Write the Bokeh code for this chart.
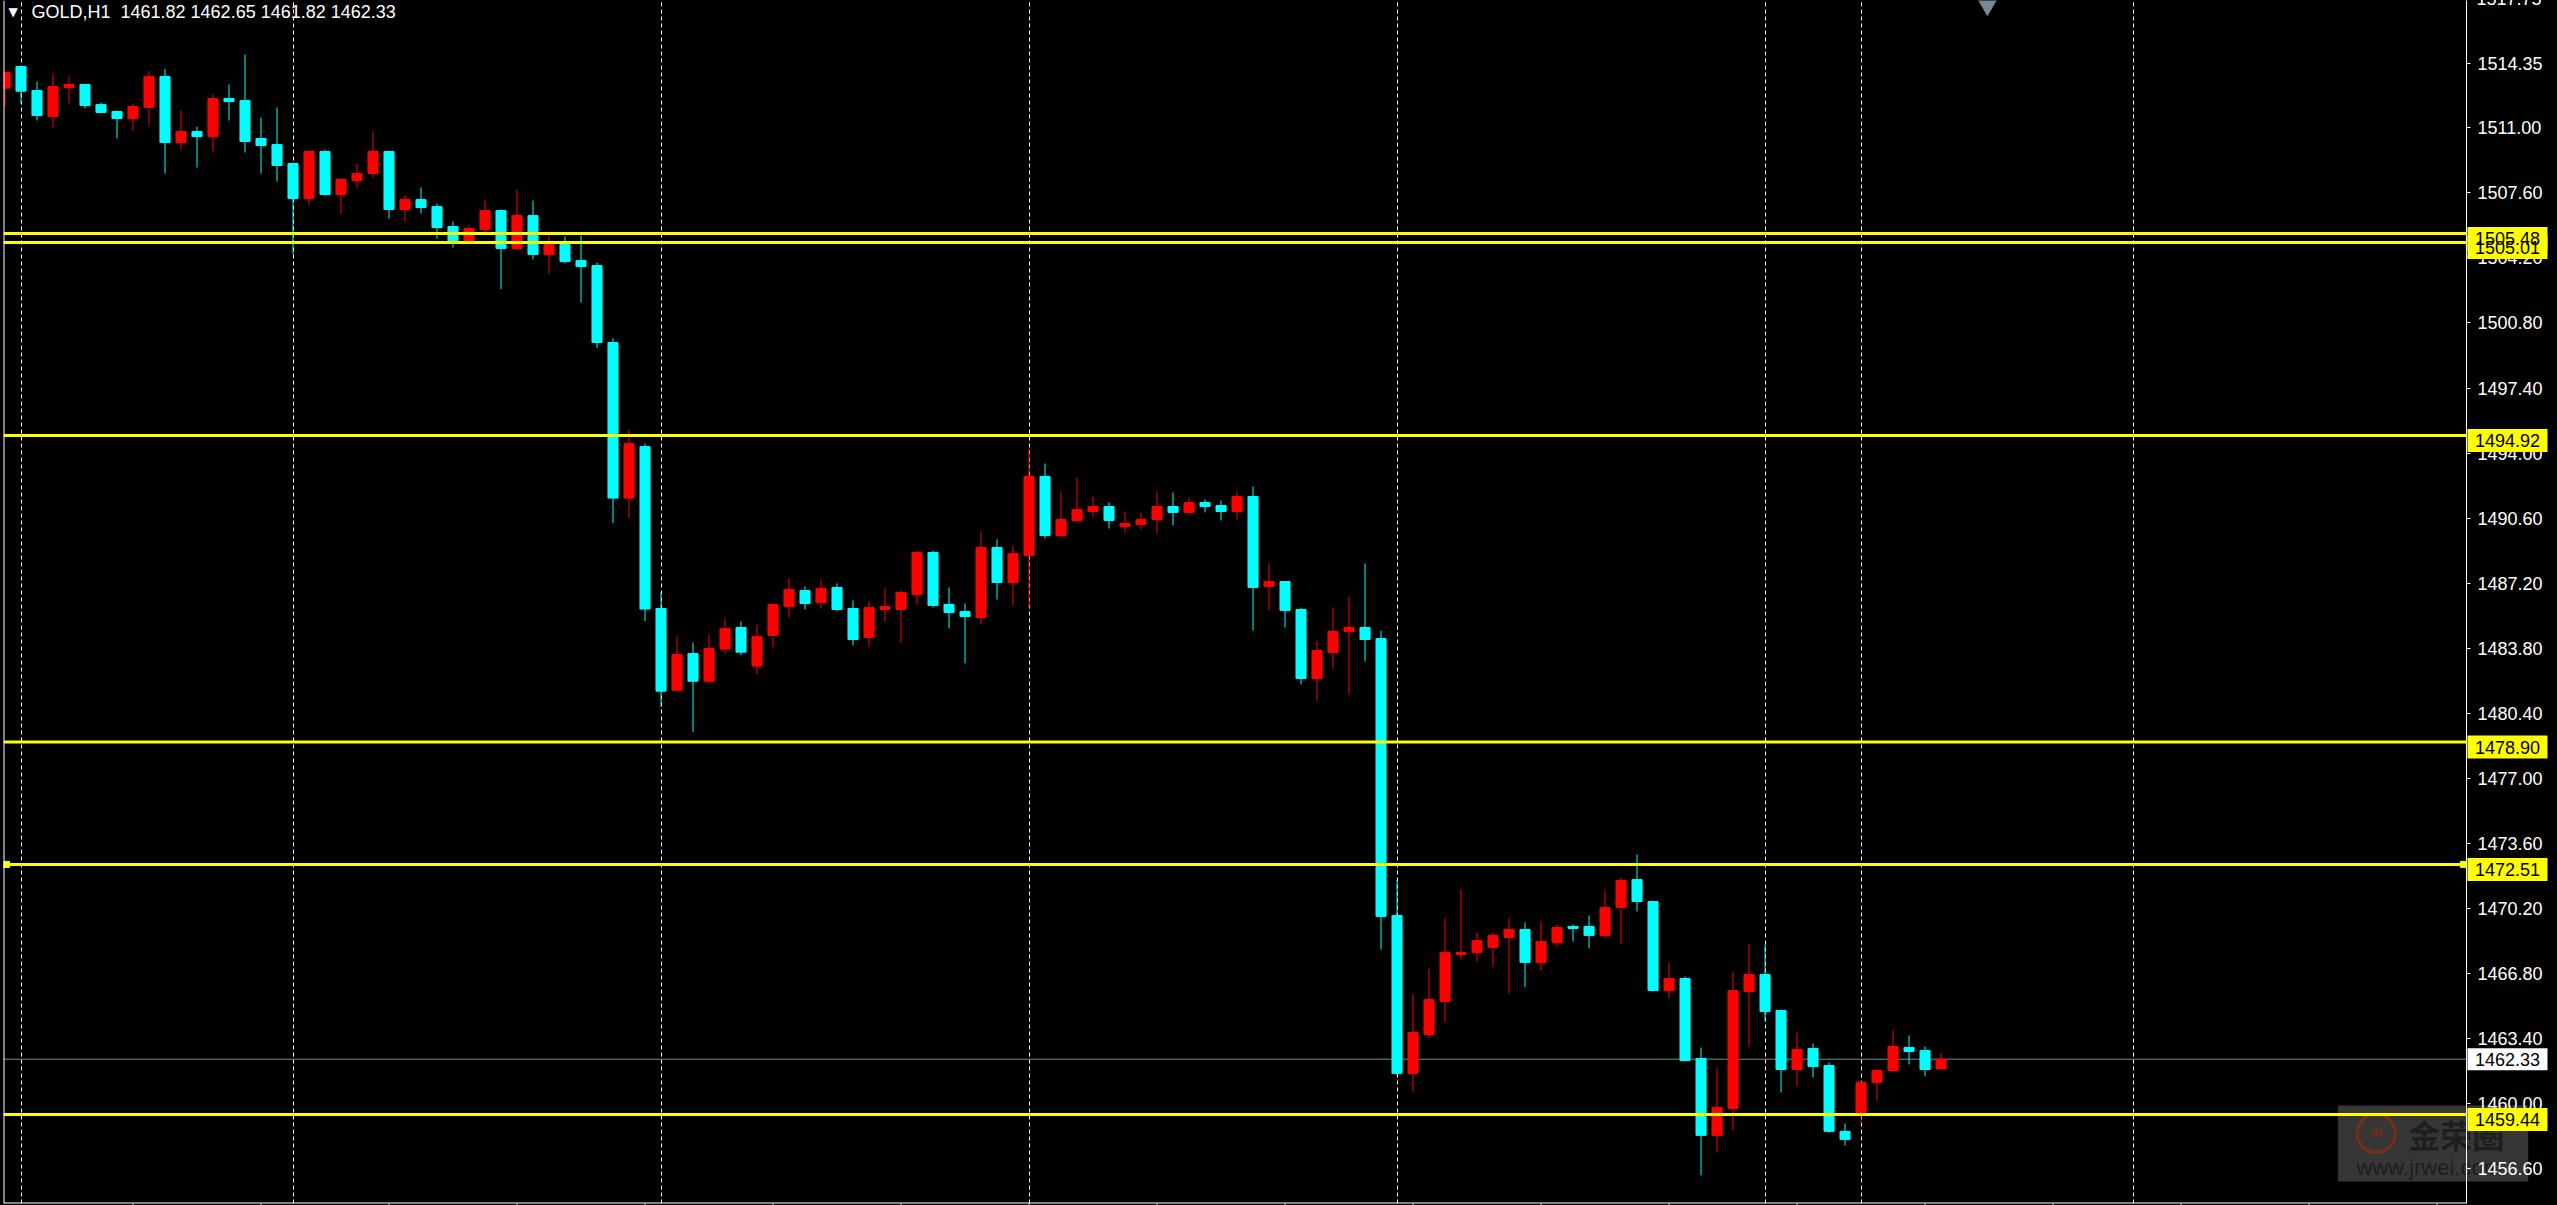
from bokeh.plotting import figure
from bokeh.models import (Range1d, FixedTicker, PrintfTickFormatter, Span, Label,
                          ColumnDataSource)
from bokeh.core.properties import value
from bokeh.embed import file_html
from bokeh.resources import INLINE

# ---------------- data ----------------
symbol = "GOLD,H1"

opens = [1513.07, 1514.20, 1512.95, 1511.59, 1513.10, 1513.26, 1512.21, 1511.85, 1511.48, 1512.06,
         1513.68, 1510.23, 1510.80, 1510.54, 1512.53, 1512.42, 1510.44, 1510.12, 1509.13, 1507.30,
         1509.76, 1507.51, 1508.24, 1508.61, 1509.76, 1506.73, 1507.25, 1506.88, 1505.84, 1505.06,
         1505.68, 1506.68, 1504.69, 1506.41, 1504.38, 1504.90, 1504.06, 1503.80, 1499.78, 1491.65,
         1494.34, 1485.88, 1481.61, 1483.53, 1482.08, 1483.76, 1484.89, 1482.87, 1484.47, 1485.99,
         1486.82, 1486.19, 1486.98, 1485.88, 1484.37, 1485.83, 1485.83, 1486.61, 1488.81, 1486.09,
         1485.72, 1485.41, 1489.07, 1487.24, 1488.65, 1492.78, 1489.69, 1490.48, 1490.95, 1491.21,
         1490.17, 1490.27, 1490.53, 1491.21, 1490.90, 1491.42, 1491.26, 1490.95, 1491.73, 1487.03,
         1487.29, 1485.83, 1482.22, 1483.58, 1484.68, 1484.89, 1484.31, 1469.84, 1461.59, 1463.62,
         1465.35, 1467.80, 1467.91, 1468.17, 1468.69, 1469.11, 1467.39, 1468.43, 1469.27, 1469.27,
         1468.80, 1470.26, 1471.72, 1470.57, 1465.92, 1466.55, 1462.37, 1458.35, 1459.76, 1465.87,
         1466.76, 1464.88, 1461.79, 1462.89, 1462.00, 1458.56, 1459.55, 1461.12, 1461.74, 1462.94,
         1462.79, 1461.82]
highs = [1513.95, 1514.25, 1513.41, 1513.83, 1513.68, 1513.30, 1512.32, 1511.90, 1512.25, 1513.95,
         1514.09, 1511.90, 1511.06, 1512.74, 1513.26, 1514.83, 1511.53, 1512.06, 1509.18, 1509.80,
         1509.86, 1508.35, 1509.13, 1510.80, 1509.80, 1507.46, 1507.88, 1507.04, 1506.10, 1505.94,
         1507.20, 1506.73, 1507.77, 1507.20, 1505.58, 1505.32, 1505.37, 1503.96, 1500.00, 1495.23,
         1494.50, 1486.72, 1484.42, 1484.11, 1484.52, 1485.36, 1485.20, 1485.05, 1486.14, 1487.45,
         1487.03, 1487.40, 1487.19, 1486.30, 1486.25, 1486.93, 1486.82, 1488.91, 1488.91, 1486.98,
         1486.14, 1489.90, 1489.49, 1489.17, 1494.24, 1493.46, 1491.99, 1492.72, 1491.73, 1491.42,
         1490.95, 1490.90, 1491.99, 1491.94, 1491.68, 1491.58, 1491.52, 1491.99, 1492.25, 1488.23,
         1487.32, 1485.93, 1484.21, 1485.93, 1486.51, 1488.23, 1484.73, 1471.72, 1465.71, 1467.07,
         1469.68, 1471.20, 1468.95, 1468.95, 1469.68, 1469.48, 1469.53, 1469.37, 1469.37, 1469.84,
         1471.09, 1471.83, 1473.03, 1470.62, 1467.38, 1466.65, 1462.94, 1461.85, 1466.86, 1468.33,
         1468.33, 1464.93, 1463.73, 1463.15, 1462.16, 1458.97, 1461.22, 1461.85, 1463.83, 1463.57,
         1463.00, 1462.65]
lows = [1512.13, 1512.25, 1511.38, 1511.01, 1512.27, 1512.02, 1511.76, 1510.44, 1510.85, 1511.17,
        1508.61, 1509.86, 1508.92, 1509.76, 1511.38, 1509.71, 1508.61, 1508.19, 1504.41, 1506.94,
        1507.46, 1506.52, 1507.88, 1508.40, 1506.26, 1506.05, 1506.52, 1505.21, 1504.74, 1504.95,
        1505.50, 1502.57, 1504.59, 1504.12, 1503.38, 1503.91, 1501.88, 1499.50, 1490.34, 1490.60,
        1485.22, 1480.73, 1481.56, 1479.42, 1481.98, 1483.55, 1483.44, 1482.45, 1483.86, 1485.41,
        1485.83, 1485.88, 1485.72, 1483.95, 1483.90, 1485.20, 1484.10, 1486.09, 1485.93, 1484.84,
        1483.01, 1485.05, 1486.35, 1486.04, 1485.88, 1489.54, 1489.59, 1490.45, 1490.69, 1490.06,
        1489.85, 1490.01, 1489.80, 1490.22, 1490.79, 1490.90, 1490.48, 1490.53, 1484.73, 1485.78,
        1484.89, 1481.91, 1481.07, 1482.75, 1481.39, 1483.11, 1468.06, 1461.48, 1460.64, 1463.41,
        1464.25, 1467.54, 1467.44, 1467.18, 1465.77, 1466.08, 1466.97, 1468.22, 1468.48, 1468.12,
        1468.64, 1468.33, 1470.05, 1465.87, 1465.50, 1462.21, 1456.26, 1457.46, 1458.61, 1463.00,
        1464.30, 1460.59, 1460.90, 1461.38, 1458.50, 1457.82, 1458.97, 1460.17, 1461.69, 1462.06,
        1461.43, 1461.82]
closes = [1513.90, 1512.91, 1511.64, 1513.15, 1513.26, 1512.16, 1511.80, 1511.48, 1512.11, 1513.68,
          1510.23, 1510.80, 1510.54, 1512.53, 1512.37, 1510.28, 1510.07, 1509.03, 1507.30, 1509.76,
          1507.51, 1508.30, 1508.61, 1509.76, 1506.73, 1507.25, 1506.83, 1505.79, 1505.06, 1505.74,
          1506.68, 1504.69, 1506.41, 1504.38, 1504.90, 1504.01, 1503.75, 1499.78, 1491.65, 1494.50,
          1485.85, 1481.56, 1483.48, 1482.08, 1483.79, 1484.84, 1483.60, 1484.42, 1486.09, 1486.87,
          1486.14, 1486.93, 1485.83, 1484.26, 1485.93, 1485.99, 1486.72, 1488.81, 1486.04, 1485.67,
          1485.46, 1489.07, 1487.24, 1488.75, 1492.78, 1489.69, 1490.53, 1491.05, 1491.21, 1490.48,
          1490.32, 1490.53, 1491.21, 1490.90, 1491.42, 1491.21, 1490.95, 1491.73, 1486.98, 1487.29,
          1485.78, 1482.22, 1483.69, 1484.68, 1484.89, 1484.26, 1469.79, 1461.59, 1463.73, 1465.45,
          1467.91, 1467.91, 1468.53, 1468.80, 1469.11, 1467.39, 1468.48, 1469.21, 1469.16, 1468.80,
          1470.26, 1471.67, 1470.57, 1465.92, 1466.55, 1462.26, 1458.35, 1459.81, 1465.92, 1466.76,
          1464.82, 1461.79, 1462.84, 1461.95, 1458.56, 1458.14, 1461.12, 1461.74, 1463.00, 1462.73,
          1461.79, 1462.33]

level_prices = [1505.48, 1505.01, 1494.92, 1478.90, 1472.51, 1459.44]
bid_price = 1462.33
price_ticks = [1456.60, 1460.00, 1463.40, 1466.80, 1470.20, 1473.60, 1477.00, 1480.40,
               1483.80, 1487.20, 1490.60, 1494.00, 1497.40, 1500.80, 1504.20, 1507.60,
               1511.00, 1514.35, 1517.75]
grid_bars = [1, 18, 41, 64, 87, 110, 116, 133]
time_ticks = list(range(8, 154, 8))
watermark_title = "金荣圈"
watermark_url = "www.jrwei.com"

# ---------------- styling ----------------
UP = "#FF0000"
DOWN = "#00FFFF"
LEVEL = "#FFFF00"
BID = "#778899"
FONT = "Liberation Sans"

W, H = 2557, 1205
MB_L, MB_R, MB_T, MB_B = 3, 91, 0, 2
FRAME_H = H - MB_T - MB_B

n = len(closes)
idx = list(range(n))
colors = [UP if c >= o else DOWN for o, c in zip(opens, closes)]
src = ColumnDataSource(dict(
    x=idx, o=opens, h=highs, l=lows, c=closes,
    top=[max(o, c) for o, c in zip(opens, closes)],
    bottom=[min(o, c) for o, c in zip(opens, closes)],
    color=colors))

x_start, x_end = -0.094, 153.84
y_start, y_end = 1454.79, 1517.65
ppx = (y_end - y_start) / FRAME_H          # price units per screen pixel
bpx = 1.0 / 16.0                           # bar units per screen pixel

p = figure(width=W, height=H,
           x_range=Range1d(x_start, x_end), y_range=Range1d(y_start, y_end),
           output_backend="svg", toolbar_location=None,
           x_axis_location=None, y_axis_location="right",
           background_fill_color="black", border_fill_color="black",
           min_border_left=MB_L, min_border_right=MB_R,
           min_border_top=MB_T, min_border_bottom=MB_B)
p.outline_line_color = None

# right price axis
ya = p.yaxis[0]
ya.ticker = FixedTicker(ticks=price_ticks)
ya.formatter = PrintfTickFormatter(format="%.2f")
ya.axis_line_color = "white"
ya.major_tick_line_color = "white"
ya.major_tick_out = 4
ya.major_tick_in = 0
ya.minor_tick_line_color = None
ya.major_label_text_color = "white"
ya.major_label_text_font = FONT
ya.major_label_text_font_size = "18px"
ya.major_label_standoff = 7

# grids
p.ygrid.visible = False
p.xgrid.ticker = FixedTicker(ticks=grid_bars)
p.xgrid.grid_line_color = "white"
p.xgrid.grid_line_dash = "4 3"
p.xgrid.grid_line_width = 1

# frame borders (left & bottom)
p.add_layout(Span(location=x_start, dimension="height", line_color="white", line_width=2))
p.add_layout(Span(location=y_start, dimension="width", line_color="white", line_width=2))
# time ticks below the bottom border
p.segment(x0=time_ticks, y0=[y_start] * len(time_ticks), x1=time_ticks,
          y1=[y_start - 3 * ppx] * len(time_ticks), line_color="white", line_width=1,
          level="overlay")

# partially visible top price label (tick just above the visible range)
p.text(x=[x_end + 10 * bpx], y=[price_ticks[-1]], text=[f"{price_ticks[-1]:.2f}"],
       text_align="left", text_baseline="middle", text_font=value(FONT),
       text_font_size="18px", text_color="white", level="overlay")

# watermark
wm_left, wm_right, wm_top, wm_bottom = 145.8, 157.7, 1459.91, 1455.94
p.quad(left=[wm_left], right=[wm_right], top=[wm_top], bottom=[wm_bottom],
       fill_color="#808080", fill_alpha=0.42, line_color=None, level="guide")
p.scatter(x=[148.2], y=[1458.45], marker="circle", size=38, fill_color=None,
          line_color="#7a2e14", line_width=3, level="guide")
p.text(x=[148.2], y=[1458.45], text=["JR"], text_align="center", text_baseline="middle",
       text_font=value(FONT), text_font_size="11px", text_font_style="bold",
       text_color="#7a2e14", level="guide")
p.text(x=[153.2], y=[1458.40], text=[watermark_title], text_align="center",
       text_baseline="middle", text_font=value("Noto Sans CJK SC"), text_font_size="32px",
       text_font_style="bold", text_color="#1e1e1e", level="guide")
p.text(x=[146.97], y=[1456.67], text=[watermark_url], text_align="left",
       text_baseline="middle", text_font=value(FONT), text_font_size="22px",
       text_color="#1e1e1e", level="guide")

# bid line behind candles
p.add_layout(Span(location=bid_price, dimension="width", line_color=BID, line_width=1,
                  level="underlay"))

# candles
p.segment(x0="x", y0="l", x1="x", y1="h", line_color="color", line_width=1, source=src)
p.vbar(x="x", width=0.63, top="top", bottom="bottom", fill_color="color",
       line_color="color", line_width=1, source=src)

# horizontal levels
for lv in level_prices:
    p.add_layout(Span(location=lv, dimension="width", line_color=LEVEL, line_width=3))

# selection handles on the 1472.51 line
p.scatter(x=[x_start + 3 * bpx, x_end - 3 * bpx], y=[level_prices[4]] * 2, marker="square",
          size=6, fill_color=LEVEL, line_color=LEVEL)

# chart-shift marker at top
p.scatter(x=[n + 1.9], y=[y_end], marker="inverted_triangle", size=26,
          fill_color=BID, line_color=BID)

# price boxes on the axis (drawn unclipped at overlay level)
box_x = x_end + 41 * bpx
lvl_src = ColumnDataSource(dict(
    x=[box_x] * len(level_prices),
    y=[lv - 5 * ppx for lv in level_prices],
    label=[f"{lv:.2f}" for lv in level_prices]))
p.rect(x="x", y="y", width=80, height=23, width_units="screen", height_units="screen",
       fill_color=LEVEL, line_color=None, source=lvl_src, level="overlay")
p.text(x="x", y="y", text="label", text_align="center", text_baseline="middle",
       text_font=value(FONT), text_font_size="18px", text_color="black",
       source=lvl_src, level="overlay")
bid_src = ColumnDataSource(dict(x=[box_x], y=[bid_price], label=[f"{bid_price:.2f}"]))
p.rect(x="x", y="y", width=80, height=22, width_units="screen", height_units="screen",
       fill_color="white", line_color=None, source=bid_src, level="overlay")
p.text(x="x", y="y", text="label", text_align="center", text_baseline="middle",
       text_font=value(FONT), text_font_size="18px", text_color="black",
       source=bid_src, level="overlay")

# header
p.add_layout(Label(x=x_start, y=y_end, x_offset=5, y_offset=-4, text="\u25BC",
                   text_align="left", text_baseline="top", text_font="DejaVu Sans",
                   text_font_size="12px", text_color="white"))
header = (f"{symbol}\u00a0 {opens[-1]:.2f} {highs[-1]:.2f} "
          f"{lows[-1]:.2f} {closes[-1]:.2f}")
p.add_layout(Label(x=x_start, y=y_end, x_offset=28, y_offset=-1, text=header,
                   text_align="left", text_baseline="top", text_font=FONT,
                   text_font_size="18px", text_color="white"))

html = file_html(p, INLINE, title="GOLD,H1")
html = html.replace(
    "</head>",
    "<style>html,body{margin:0;padding:0;background:#000000;overflow:hidden;}</style></head>", 1)
open("out.html", "w").write(html)
